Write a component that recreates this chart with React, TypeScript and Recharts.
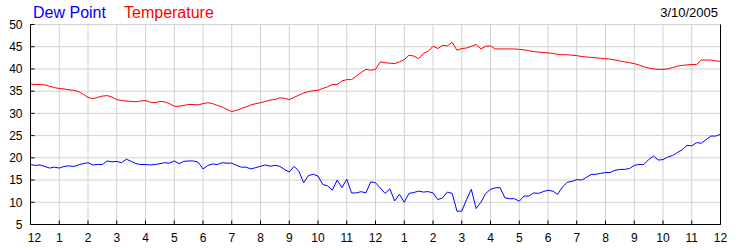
import React from "react";
import { LineChart, Line, XAxis, YAxis, CartesianGrid } from "recharts";

const FONT = '"Liberation Sans", Arial, sans-serif';

// one reading every 10 minutes, midnight to midnight
const temperature = [
  36.6, 36.5, 36.5, 36.4, 36.1, 35.8,
  35.6, 35.5, 35.3, 35.2, 34.9, 34.3,
  33.6, 33.3, 33.6, 33.9, 34.0, 33.7,
  33.1, 32.9, 32.8, 32.7, 32.6, 32.8,
  32.9, 32.5, 32.4, 32.7, 32.6, 32.2,
  31.6, 31.6, 31.8, 32.0, 32.0, 31.9,
  32.2, 32.4, 32.2, 31.8, 31.4, 30.9,
  30.4, 30.7, 31.1, 31.5, 31.9, 32.2,
  32.4, 32.7, 33.0, 33.1, 33.5, 33.4,
  33.1, 33.6, 34.1, 34.6, 34.9, 35.1,
  35.2, 35.6, 36.0, 36.5, 36.5, 37.3,
  37.6, 37.6, 38.4, 39.2, 39.9, 39.7,
  39.9, 41.6, 41.4, 41.3, 41.2, 41.6,
  42.1, 43.1, 42.9, 42.3, 43.5, 44.0,
  45.1, 44.6, 45.3, 45.2, 46.0, 44.2,
  44.6, 44.7, 45.1, 45.5, 44.5, 45.1,
  45.2, 44.5, 44.5, 44.5, 44.5, 44.5,
  44.4, 44.3, 44.1, 43.9, 43.8, 43.7,
  43.6, 43.5, 43.3, 43.2, 43.2, 43.1,
  43.0, 42.8, 42.7, 42.6, 42.5, 42.4,
  42.3, 42.2, 42.0, 41.8, 41.6, 41.4,
  41.2, 40.9, 40.5, 40.2, 40.0, 39.9,
  39.9, 40.0, 40.3, 40.6, 40.8, 40.9,
  41.0, 41.0, 42.0, 42.0, 42.0, 41.8,
  41.7,
];

const dewPoint = [
  18.5, 18.3, 18.4, 18.05, 17.7, 17.9,
  17.7, 18.05, 18.2, 18.05, 18.4, 18.7,
  18.9, 18.4, 18.5, 18.5, 19.3, 19.1,
  19.2, 18.9, 19.7, 19.2, 18.7, 18.5,
  18.5, 18.4, 18.5, 18.7, 18.9, 18.8,
  19.3, 18.7, 19.2, 19.3, 19.3, 19.0,
  17.5, 18.3, 18.6, 18.5, 18.9, 18.8,
  18.8, 18.3, 17.9, 17.9, 17.5, 17.8,
  18.1, 18.4, 18.1, 18.3, 18.1, 17.4,
  16.8, 18.1, 17.0, 14.4, 16.0, 16.3,
  15.9, 14.0, 13.7, 12.7, 15.0, 13.3,
  15.2, 12.1, 12.1, 12.4, 12.1, 14.6,
  14.4, 13.2, 12.0, 13.0, 10.3, 11.8,
  10.0, 12.0, 12.2, 12.5, 12.3, 12.4,
  12.1, 10.6, 11.0, 12.3, 12.0, 8.0,
  8.0, 10.6, 12.9, 8.6, 10.0, 12.0,
  12.9, 13.25, 13.3, 11.0, 10.8, 10.8,
  10.25, 11.4, 11.4, 12.1, 12.0, 12.4,
  12.7, 12.5, 11.8, 13.4, 14.5, 14.7,
  15.1, 15.0, 15.6, 16.25, 16.3, 16.5,
  16.7, 16.7, 17.2, 17.4, 17.4, 17.6,
  18.3, 18.5, 18.5, 19.6, 20.4, 19.5,
  19.6, 20.2, 20.5, 21.2, 21.8, 22.8,
  22.7, 23.4, 23.3, 24.1, 24.9, 24.9,
  25.3,
];

const hourTicks = Array.from({ length: 25 }, (_, i) => i);
const hourLabels = [
  "12", "1", "2", "3", "4", "5", "6", "7", "8", "9", "10", "11",
  "12", "1", "2", "3", "4", "5", "6", "7", "8", "9", "10", "11", "12",
];
const valueTicks = [5, 10, 15, 20, 25, 30, 35, 40, 45, 50];

const data = temperature.map((t, i) => ({
  hour: i / 6,
  temperature: t,
  dewPoint: dewPoint[i],
}));

const HourTick = (props: any) => {
  const { x, y, index } = props;
  return (
    <text
      x={x + (index === 0 ? 4 : 0)}
      y={y}
      dy="0.71em"
      textAnchor="middle"
      fontSize={12}
      fontFamily={FONT}
      fill="#000"
    >
      {hourLabels[index]}
    </text>
  );
};

export default function App() {
  const tickStyle = { fontSize: 12, fontFamily: FONT, fill: "#000" };
  return (
    <div style={{ position: "absolute", left: 0, top: 0, width: 750, height: 250, background: "#fff" }}>
      <LineChart
        width={750}
        height={250}
        data={data}
        margin={{ top: 24.5, right: 0, bottom: 0, left: 0.5 }}
      >
        <CartesianGrid stroke="#d0d0d0" xAxisId="bottom" yAxisId="left" />
        <XAxis
          xAxisId="bottom"
          dataKey="hour"
          type="number"
          domain={[0, 24]}
          ticks={hourTicks}
          interval={0}
          height={25.5}
          stroke="#000"
          tickSize={-4}
          tickMargin={13}
          tick={<HourTick />}
        />
        <XAxis
          xAxisId="top"
          orientation="top"
          dataKey="hour"
          type="number"
          domain={[0, 24]}
          ticks={hourTicks}
          interval={0}
          height={0}
          stroke="#000"
          tickSize={-4}
          tick={false}
        />
        <YAxis
          yAxisId="left"
          domain={[5, 50]}
          ticks={valueTicks}
          interval={0}
          width={30}
          stroke="#000"
          tickSize={-4}
          tickMargin={12}
          tick={tickStyle}
        />
        <YAxis
          yAxisId="right"
          orientation="right"
          domain={[5, 50]}
          ticks={valueTicks}
          interval={0}
          width={29.5}
          stroke="#000"
          tickSize={-4}
          tickMargin={10}
          tick={tickStyle}
          textAnchor="start"
        />
        <Line
          xAxisId="bottom"
          yAxisId="left"
          type="linear"
          dataKey="temperature"
          stroke="#ff0000"
          strokeWidth={1}
          dot={false}
          isAnimationActive={false}
        />
        <Line
          xAxisId="bottom"
          yAxisId="left"
          type="linear"
          dataKey="dewPoint"
          stroke="#0000ff"
          strokeWidth={1}
          dot={false}
          isAnimationActive={false}
        />
      </LineChart>
      <svg
        width={750}
        height={25}
        style={{ position: "absolute", left: 0, top: 0, pointerEvents: "none" }}
      >
        <text x={33} y={17.5} fontSize={16} fontFamily={FONT} fill="#0000ff">
          Dew Point
        </text>
        <text x={124} y={17.5} fontSize={16} fontFamily={FONT} fill="#ff0000">
          Temperature
        </text>
        <text x={718} y={17} fontSize={13} fontFamily={FONT} fill="#000" textAnchor="end">
          3/10/2005
        </text>
      </svg>
    </div>
  );
}
